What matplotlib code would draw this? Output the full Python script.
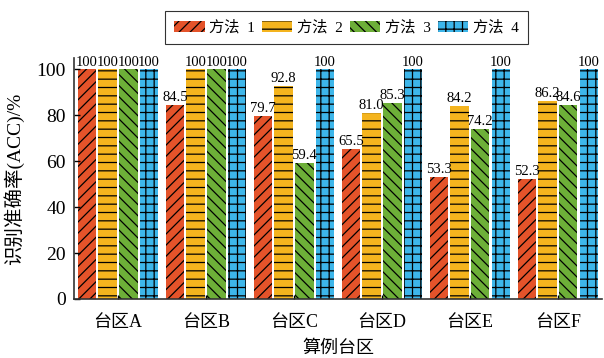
import numpy as np
import matplotlib
matplotlib.use('Agg')
import matplotlib.pyplot as plt

plt.rcParams['font.family'] = ['Liberation Serif', 'Noto Sans CJK SC']
plt.rcParams['hatch.linewidth'] = 0.9
plt.rcParams['axes.unicode_minus'] = False

areas = ['台区A', '台区B', '台区C', '台区D', '台区E', '台区F']
methods = ['方法  1', '方法  2', '方法  3', '方法  4']
acc_m1 = [100, 84.5, 79.7, 65.5, 53.3, 52.3]
acc_m2 = [100, 100, 92.8, 81.0, 84.2, 86.2]
acc_m3 = [100, 100, 59.4, 85.3, 74.2, 84.6]
acc_m4 = [100, 100, 100, 100, 100, 100]
labels_m1 = ['100', '84.5', '79.7', '65.5', '53.3', '52.3']
labels_m2 = ['100', '100', '92.8', '81.0', '84.2', '86.2']
labels_m3 = ['100', '100', '59.4', '85.3', '74.2', '84.6']
labels_m4 = ['100', '100', '100', '100', '100', '100']

colors = ['#E4532A', '#F4B41E', '#6DAF38', '#3DB6EA']
hatches = ['///', '--', '\\\\\\', '++']

fig = plt.figure(figsize=(6.04, 3.58), dpi=100)
ax = fig.add_axes([0.1225, 0.165, 0.874, 0.673])

x = np.arange(len(areas))
pitch = 0.235
width = 0.21
series = [acc_m1, acc_m2, acc_m3, acc_m4]
texts = [labels_m1, labels_m2, labels_m3, labels_m4]
for i in range(4):
    pos = x + (i - 1.5) * pitch
    ax.bar(pos, series[i], width, color=colors[i], hatch=hatches[i],
           edgecolor='black', linewidth=0, label=methods[i])
    for px, v, t in zip(pos, series[i], texts[i]):
        ax.text(px, v + 0.4, t, ha='center', va='bottom', fontsize=10.5)

ax.set_xlim(-0.5, 5.5)
ax.set_ylim(0, 105)
ax.set_yticks([0, 20, 40, 60, 80, 100])
ax.set_xticks(x)
ax.set_xticklabels(areas, fontsize=13)
ax.tick_params(axis='y', labelsize=14, direction='in', length=4, width=1, pad=6)
ax.tick_params(axis='x', direction='in', length=3, width=1, pad=11)
ax.spines['top'].set_visible(False)
ax.spines['right'].set_visible(False)
for s in ['left', 'bottom']:
    ax.spines[s].set_linewidth(1.2)
    ax.spines[s].set_color('#333333')

ax.set_ylabel('识别准确率(ACC)/%', fontsize=14, labelpad=9)
ax.set_xlabel('算例台区', fontsize=13, labelpad=6)

leg = ax.legend(loc='lower left', bbox_to_anchor=(0.172, 1.058), ncol=4,
                fontsize=11, frameon=True, fancybox=False, edgecolor='black',
                handlelength=2.0, handleheight=0.8, columnspacing=0.45,
                handletextpad=0.3, borderpad=0.6, borderaxespad=0)
leg.get_frame().set_linewidth(0.8)

plt.savefig('out.png', dpi=100)
